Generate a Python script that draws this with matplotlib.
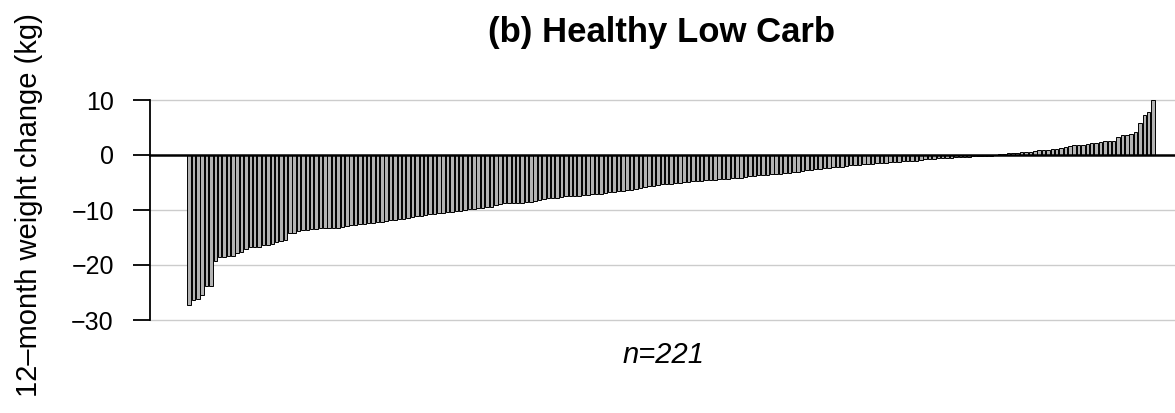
import matplotlib
matplotlib.use("Agg")
import matplotlib.pyplot as plt
import numpy as np

plt.rcParams['font.family'] = ['Liberation Sans', 'DejaVu Sans']

# sorted 12-month weight change per participant (kg)
change_neg_a = [-27.3, -26.4, -26.2, -25.5, -23.9, -23.8, -19.3, -18.6, -18.5, -18.4,
                -18.3, -17.9, -17.6, -17.1, -16.8, -16.8, -16.7, -16.4, -16.4, -16.1,
                -15.8, -15.7, -15.5, -14.2, -14.1, -13.9, -13.7, -13.6, -13.5, -13.4,
                -13.3, -13.3, -13.3]
change_neg_b = [-13.3, -13.2, -13.0, -12.9, -12.8, -12.7, -12.6, -12.5, -12.4, -12.3,
                -12.2, -12.1, -12.0, -11.9, -11.8, -11.7, -11.6, -11.4, -11.2, -11.1,
                -11.0, -10.9, -10.8, -10.7, -10.6, -10.5, -10.4, -10.3, -10.2, -10.1,
                -10.0, -9.9, -9.8, -9.7, -9.7]
change_neg_c = [-9.5, -9.4, -9.0, -8.9, -8.8, -8.8, -8.8, -8.7, -8.7, -8.6,
                -8.5, -8.3, -8.2, -8.0, -7.9, -7.8, -7.8, -7.6, -7.5, -7.4,
                -7.4, -7.4, -7.3, -7.2, -7.1, -7.0, -7.0, -6.9, -6.8, -6.7,
                -6.6, -6.5, -6.4, -6.3, -6.2]
change_neg_d = [-6.0, -5.9, -5.7, -5.6, -5.4, -5.3, -5.2, -5.2, -5.1, -5.0,
                -4.9, -4.9, -4.8, -4.7, -4.7, -4.6, -4.5, -4.5, -4.4, -4.3,
                -4.3, -4.2, -4.1, -4.1, -4.0, -3.9, -3.8, -3.7, -3.7, -3.6,
                -3.5, -3.4, -3.4, -3.3, -3.2, -3.1, -3.0, -2.9]
change_neg_e = [-2.8, -2.7, -2.6, -2.5, -2.4, -2.3, -2.2, -2.2, -2.1, -2.0,
                -1.9, -1.9, -1.8, -1.7, -1.6, -1.6, -1.5, -1.4, -1.4, -1.3,
                -1.3, -1.2, -1.1, -1.1, -1.0, -1.0, -0.9, -0.8, -0.8, -0.7,
                -0.6, -0.6, -0.5, -0.5, -0.4, -0.4, -0.3, -0.3, -0.2, -0.2,
                -0.2, -0.1, -0.1, -0.05]
change_pos = [0.1, 0.2, 0.3, 0.3, 0.4, 0.5, 0.6, 0.6, 0.7, 0.85,
              0.9, 1.0, 1.1, 1.1, 1.3, 1.5, 1.6, 1.8, 1.8, 1.8,
              2.0, 2.1, 2.1, 2.3, 2.5, 2.6, 2.6, 3.3, 3.6, 3.6,
              3.8, 4.1, 5.8, 7.3, 7.9, 10.0]

weight_change = change_neg_a + change_neg_b + change_neg_c + change_neg_d + change_neg_e + change_pos
n = len(weight_change)
y_ticks = [-30, -20, -10, 0, 10]

fig = plt.figure(figsize=(11.75, 4.13), dpi=100)
ax = fig.add_axes([150/1175, 1 - 320/413, 1 - 150/1175, 220/413])

idx = np.arange(1, n + 1)
ax.bar(idx, weight_change, width=0.8, color='#b3b3b3', edgecolor='black', linewidth=0.7, zorder=2)

# light grid lines + bold zero line
for t in y_ticks:
    if t == 0:
        ax.axhline(0, color='black', linewidth=1.8, zorder=3, clip_on=False)
    else:
        ax.axhline(t, color='#cccccc', linewidth=1.0, zorder=1, clip_on=False)

ax.set_xlim(1 - 8.9, n + 5)
ax.set_ylim(-30, 10)
ax.set_xticks([])
ax.set_yticks(y_ticks)
ax.set_yticklabels([str(t).replace('-', '\u2212') for t in y_ticks])
ax.tick_params(axis='y', length=12, width=1.3, pad=14, labelsize=18)
for s in ['top', 'right', 'bottom']:
    ax.spines[s].set_visible(False)
ax.spines['left'].set_linewidth(1.3)
ax.spines['left'].set_bounds(-30, 10)

fig.text(662/1175, 1 - 42/413, '(b) Healthy Low Carb', ha='center', va='baseline',
         fontsize=25, fontweight='bold')
fig.text(664/1175, 1 - 355/413, 'n=221', ha='center', va='center', fontsize=21, style='italic')
fig.text(29/1175, 1 - 205/413, '12\u2013month weight change (kg)', ha='center', va='center',
         rotation=90, fontsize=21)

fig.savefig('out.png', dpi=100)
